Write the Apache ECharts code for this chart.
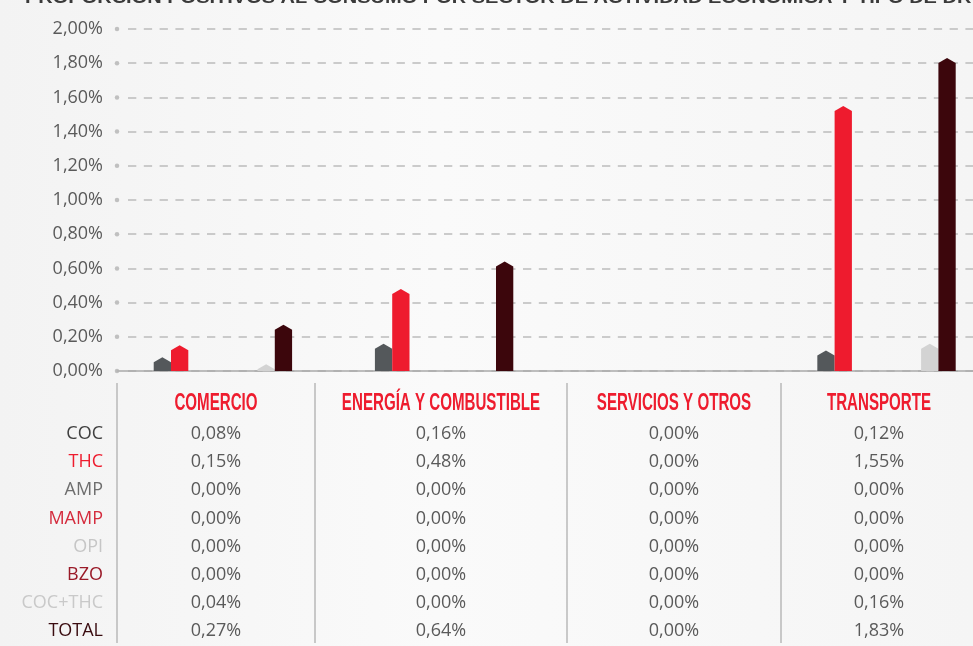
<!DOCTYPE html>
<html>
<head>
<meta charset="utf-8">
<script src="https://cdn.jsdelivr.net/npm/echarts@6/dist/echarts.min.js"></script>
<style>
  html, body { margin: 0; padding: 0; }
  #chart { width: 973px; height: 646px; }
</style>
</head>
<body>
<div id="chart"></div>
<script>
// Sectors of economic activity (x categories / table columns)
const sectors = ['COMERCIO', 'ENERGÍA Y COMBUSTIBLE', 'SERVICIOS Y OTROS', 'TRANSPORTE'];
// Substances (series / table rows)
const drugs = ['COC', 'THC', 'AMP', 'MAMP', 'OPI', 'BZO', 'COC+THC', 'TOTAL'];

// Share of positives per sector, in percent
const coc    = [0.08, 0.16, 0.00, 0.12];
const thc    = [0.15, 0.48, 0.00, 1.55];
const amp    = [0.00, 0.00, 0.00, 0.00];
const mamp   = [0.00, 0.00, 0.00, 0.00];
const opi    = [0.00, 0.00, 0.00, 0.00];
const bzo    = [0.00, 0.00, 0.00, 0.00];
const cocThc = [0.04, 0.00, 0.00, 0.16];
const total  = [0.27, 0.64, 0.00, 1.83];

// Y axis ticks (percent)
const yTicks = [0, 0.2, 0.4, 0.6, 0.8, 1.0, 1.2, 1.4, 1.6, 1.8, 2.0];

const seriesValues = [coc, thc, amp, mamp, opi, bzo, cocThc, total];
const barColors  = ['#54585b', '#ee1b2e', '#7a7a7a', '#d42a3c', '#c4c4c4', '#9a1a28', '#d3d3d3', '#3c060c'];
const rowColors  = ['#404040', '#ee1c2e', '#6e6e6e', '#d42a3c', '#c6c6c6', '#9a1a28', '#c9c9c9', '#3a0c10'];

const fmtPct = v => v.toFixed(2).replace('.', ',') + '%';

const PLOT_TOP = 29, PLOT_H = 342;
const BAR_RATIO = 0.0782;   // bar width as a share of one sector slot
const TIP = 5;              // height of the pointed cap, px

function makeRenderer(slot) {
  return function (params, api) {
    const v = api.value(1);
    if (!v) return null;
    const base = api.coord([api.value(0), 0]);
    const top = api.coord([api.value(0), v]);
    const band = api.size([1, 0])[0];
    const w = band * BAR_RATIO;
    const x0 = base[0] - w * drugs.length / 2 + slot * w;
    const tip = Math.min(TIP, base[1] - top[1]);
    return {
      type: 'polygon',
      shape: { points: [
        [x0, base[1]], [x0, top[1] + tip], [x0 + w / 2, top[1]],
        [x0 + w, top[1] + tip], [x0 + w, base[1]]
      ] },
      style: { fill: barColors[slot] }
    };
  };
}

const barSeries = drugs.map((name, s) => ({
  type: 'custom',
  name: name,
  xAxisIndex: 2, yAxisIndex: 2,
  renderItem: makeRenderer(s),
  data: seriesValues[s].map((v, i) => [i, v]),
  z: 5
}));

// Data table under the chart
const colEdges = [117, 315, 567, 781, 977];
const headerY = 403, rowY0 = 434, rowStep = 28.14;
const graphics = [];

// Page heading, running off the top edge
graphics.push({
  type: 'text', x: 25, y: 7, scaleX: 1.25, silent: true,
  style: {
    text: 'PROPORCIÓN POSITIVOS AL CONSUMO POR SECTOR DE ACTIVIDAD ECONÓMICA Y TIPO DE DROGA',
    font: 'bold 16px "Liberation Sans"', fill: '#3a3a3a', align: 'left', verticalAlign: 'bottom'
  }
});

colEdges.slice(0, 4).forEach(x => {
  graphics.push({
    type: 'line', silent: true,
    shape: { x1: x, y1: 383, x2: x, y2: 643 },
    style: { stroke: '#b8b8b8', lineWidth: 1.5 }
  });
});

sectors.forEach((name, c) => {
  const cx = (colEdges[c] + colEdges[c + 1]) / 2;
  graphics.push({
    type: 'text', x: cx, y: headerY, scaleX: 0.63, silent: true,
    style: { text: name, font: 'bold 24px "Liberation Sans"', fill: '#ee1c2e', align: 'center', verticalAlign: 'middle' }
  });
  seriesValues.forEach((vals, r) => {
    graphics.push({
      type: 'text', x: cx, y: rowY0 + r * rowStep, silent: true,
      style: { text: fmtPct(vals[c]), font: '18px "Open Sans"', fill: '#5a5a5a', align: 'center', verticalAlign: 'middle' }
    });
  });
});

drugs.forEach((name, r) => {
  graphics.push({
    type: 'text', x: 103, y: rowY0 + r * rowStep, silent: true,
    style: { text: name, font: '18px "Open Sans"', fill: rowColors[r], align: 'right', verticalAlign: 'middle' }
  });
});

const chart = echarts.init(document.getElementById('chart'), null, { renderer: 'canvas' });
chart.setOption({
  animation: false,
  backgroundColor: {
    type: 'linear', x: 0, y: 0, x2: 1, y2: 0,
    colorStops: [
      { offset: 0, color: '#f3f3f3' },
      { offset: 0.45, color: '#fafafa' },
      { offset: 1, color: '#f5f5f5' }
    ]
  },
  grid: [
    { left: 128, right: 0, top: PLOT_TOP, height: PLOT_H },
    { left: 117, right: 0, top: PLOT_TOP, height: PLOT_H },
    { left: 112.3, right: 0, top: PLOT_TOP, height: PLOT_H }
  ],
  xAxis: [
    { gridIndex: 0, type: 'value', min: 0, max: 1, show: false },
    {
      gridIndex: 1, type: 'value', min: 0, max: 1,
      axisLine: { show: true, lineStyle: { color: '#a9a9a9', width: 1.5 } },
      axisTick: { show: false }, axisLabel: { show: false }, splitLine: { show: false }
    },
    // sector slots: slot i is centred on value i; the last slot runs past the right edge
    { gridIndex: 2, type: 'value', min: -0.5, max: 3.391, show: false, splitLine: { show: false } }
  ],
  yAxis: [
    {
      gridIndex: 0, type: 'value', min: 0, max: 2, interval: 0.2,
      axisLine: { show: false }, axisTick: { show: false }, axisLabel: { show: false },
      splitLine: { show: true, lineStyle: { color: '#bcbcbc', width: 1.5, type: [8.3, 7.5] } }
    },
    {
      gridIndex: 1, type: 'value', min: 0, max: 2, interval: 0.2,
      axisLine: { show: false }, axisTick: { show: false }, splitLine: { show: false },
      axisLabel: { margin: 14, formatter: fmtPct, color: '#5a5a5a', fontSize: 18, fontFamily: 'Open Sans' }
    },
    { gridIndex: 2, type: 'value', min: 0, max: 2, show: false, splitLine: { show: false } }
  ],
  graphic: graphics,
  series: [
    {
      type: 'scatter', xAxisIndex: 1, yAxisIndex: 1, silent: true, clip: false,
      symbolSize: 4.5, itemStyle: { color: '#b3b3b3' },
      data: yTicks.map(v => [0, v]), z: 3
    }
  ].concat(barSeries)
});
</script>
</body>
</html>
